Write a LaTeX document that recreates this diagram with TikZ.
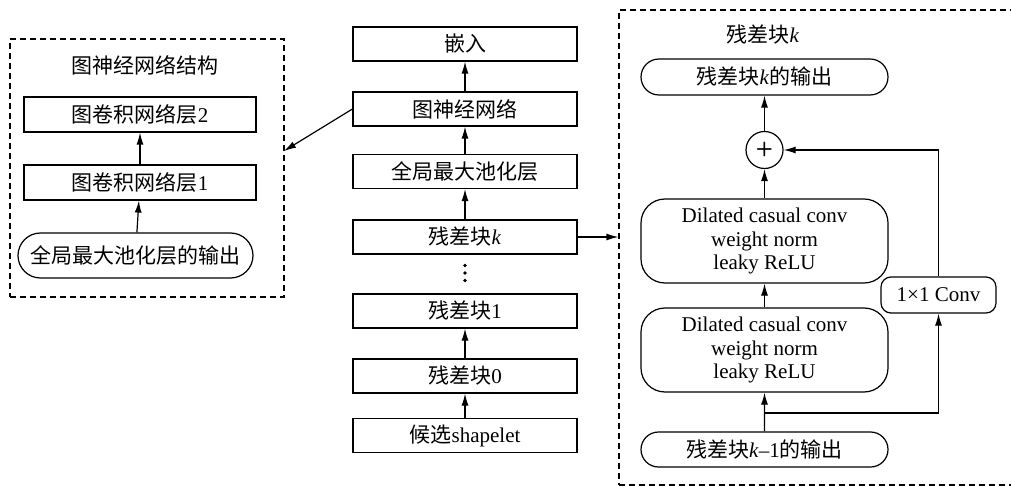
\documentclass[tikz,border=0pt]{standalone}
\usepackage{fontspec}
\setmainfont{Liberation Serif}
\newfontfamily\cjk[Scale=1.0]{Noto Sans CJK SC}
\usetikzlibrary{arrows.meta,shapes.misc}
\begin{document}
\begin{tikzpicture}[x=1pt,y=-1pt,
  every node/.style={font=\fontsize{21}{23.5}\selectfont, inner sep=0pt},
  blk/.style={draw, line width=1.2pt, rectangle, minimum width=224pt, minimum height=34pt},
  pill/.style={draw, line width=1.2pt, rounded rectangle},
  rbx/.style={draw, line width=1.2pt, rounded corners=24pt, minimum width=247pt, minimum height=84pt, align=center},
  dbox/.style={draw, line width=1.2pt, dash pattern=on 6pt off 4pt, rectangle},
  arr/.style={line width=1.2pt, -{Latex[length=12pt,width=7pt]}}
]
\clip (0,0) rectangle (1011,486);
% middle column
\node[blk] (emb) at (465,44) {{\cjk 嵌入}};
\node[blk] (gnn) at (465,109) {{\cjk 图神经网络}};
\node[blk] (gmp) at (465,171.5) {{\cjk 全局最大池化层}};
\node[blk] (rbk) at (465,237) {{\cjk 残差块}\textit{k}};
\fill (465,265.5) circle (1.8) (465,273) circle (1.8) (465,280.5) circle (1.8);
\node[blk] (rb1) at (465,311) {{\cjk 残差块}1};
\node[blk] (rb0) at (465,376) {{\cjk 残差块}0};
\node[blk] (cand) at (465,435.5) {{\cjk 候选}shapelet};
\draw[arr] (cand) -- (rb0);
\draw[arr] (rb0) -- (rb1);
\draw[arr] (rbk) -- (gmp);
\draw[arr] (gmp) -- (gnn);
\draw[arr] (gnn) -- (emb);
% left block
\node[dbox, minimum width=274pt, minimum height=258pt] (lbox) at (147,168) {};
\node (gt) at (145,65) {{\cjk 图神经网络结构}};
\node[blk, minimum width=232pt, minimum height=35pt] (gcn2) at (140,114.5) {{\cjk 图卷积网络层}2};
\node[blk, minimum width=232pt, minimum height=35pt] (gcn1) at (140,182.5) {{\cjk 图卷积网络层}1};
\node[pill, minimum width=235pt, minimum height=45pt] (gin) at (135.5,255.5) {{\cjk 全局最大池化层的输出}};
\draw[arr] (gin) -- (gcn1);
\draw[arr] (gcn1) -- (gcn2);
\coordinate (ltip) at (284,151);
\draw[arr] (gnn.west) -- (ltip);
% right block
\node[dbox, minimum width=401pt, minimum height=475pt] (rbox) at (819.5,247.5) {};
\draw[arr] (rbk.east) -- (rbk.east -| rbox.west);
\node (rt) at (763,35) {{\cjk 残差块}\textit{k}};
\node[pill, minimum width=247pt, minimum height=36pt] (rout) at (764.5,77) {{\cjk 残差块}\textit{k}{\cjk 的输出}};
\node[draw, circle, line width=1.2pt, minimum size=37pt, font=\sffamily\bfseries\fontsize{20}{20}\selectfont] (plus) at (764.5,150) {+};
\node[rbx] (dil2) at (764.5,241) {Dilated casual conv\\weight norm\\leaky ReLU};
\node[rbx] (dil1) at (764.5,350) {Dilated casual conv\\weight norm\\leaky ReLU};
\node[draw, line width=1.2pt, rounded corners=10pt, minimum width=115pt, minimum height=36pt] (conv) at (938.5,295) {1×1 Conv};
\node[pill, minimum width=247pt, minimum height=35pt] (rin) at (764.5,449.5) {{\cjk 残差块}\textit{k}–1{\cjk 的输出}};
\coordinate (j) at (764.5,413);
\draw[arr] (rin) -- (dil1);
\draw[arr] (j) -| (conv.south);
\draw[arr] (dil1) -- (dil2);
\draw[arr] (dil2) -- (plus);
\draw[arr] (conv.north) |- (plus.east);
\draw[arr] (plus) -- (rout);
\end{tikzpicture}
\end{document}
